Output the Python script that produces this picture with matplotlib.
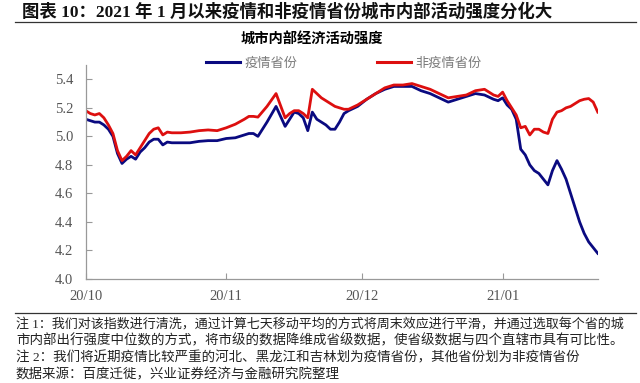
import numpy as np
import pandas as pd
import matplotlib
matplotlib.use('Agg')
import matplotlib.pyplot as plt
import matplotlib.dates as mdates
from matplotlib.lines import Line2D

plt.rcParams['font.family'] = ['Liberation Serif', 'Noto Sans CJK SC', 'DejaVu Sans']

# days after 2020-10-01
day_offset = [0, 1, 2, 3, 4, 5, 6, 7, 8, 9, 10, 11, 12, 13, 14, 15, 16, 17, 18, 19,
              21, 23, 25, 27, 29, 31, 33, 35, 36, 37, 38, 40, 42, 44, 45, 46, 47, 48,
              49, 50, 51, 52, 53, 54, 55, 56, 57, 58, 60, 62, 64, 66, 68, 70, 72, 74,
              76, 78, 80, 82, 84, 86, 88, 90, 91, 92, 93, 94, 95, 96, 97, 98, 99, 100,
              101, 102, 103, 104, 105, 106, 107, 108, 109, 110, 111, 112, 113]

epidemic = [5.12, 5.11, 5.10, 5.10, 5.08, 5.05, 5.00, 4.88, 4.81, 4.84, 4.86, 4.84,
            4.89, 4.92, 4.96, 4.98, 4.98, 4.94, 4.96, 4.955, 4.955, 4.955, 4.965,
            4.97, 4.97, 4.985, 4.99, 5.01, 5.02, 5.02, 5.00, 5.10, 5.21, 5.07, 5.12,
            5.17, 5.16, 5.13, 5.04, 5.17, 5.12, 5.10, 5.08, 5.05, 5.05, 5.10, 5.16,
            5.18, 5.21, 5.26, 5.30, 5.33, 5.35, 5.35, 5.35, 5.32, 5.30, 5.27, 5.24,
            5.26, 5.28, 5.30, 5.29, 5.26, 5.25, 5.27, 5.22, 5.19, 5.12, 4.91, 4.87,
            4.80, 4.76, 4.74, 4.70, 4.66, 4.76, 4.83, 4.77, 4.70, 4.60, 4.50, 4.40,
            4.32, 4.26, 4.22, 4.18]

non_epidemic = [5.18, 5.16, 5.15, 5.16, 5.13, 5.08, 5.02, 4.90, 4.83, 4.86, 4.90, 4.87,
                4.92, 4.97, 5.02, 5.05, 5.06, 5.01, 5.03, 5.025, 5.025, 5.03, 5.04,
                5.045, 5.04, 5.06, 5.085, 5.12, 5.14, 5.14, 5.135, 5.21, 5.30, 5.13, 5.16,
                5.18, 5.18, 5.16, 5.13, 5.33, 5.30, 5.27, 5.25, 5.23, 5.21, 5.20, 5.19,
                5.19, 5.22, 5.26, 5.30, 5.34, 5.36, 5.36, 5.37, 5.35, 5.33, 5.30, 5.27,
                5.28, 5.29, 5.32, 5.33, 5.29, 5.28, 5.31, 5.25, 5.20, 5.15, 5.06, 5.07,
                5.01, 5.05, 5.05, 5.03, 5.02, 5.12, 5.17, 5.18, 5.20, 5.21, 5.23, 5.25,
                5.26, 5.265, 5.24, 5.17]

series_names = ['疫情省份', '非疫情省份']
yticks = [4.0, 4.2, 4.4, 4.6, 4.8, 5.0, 5.2, 5.4]
month_ticks = ['2020-10-01', '2020-11-01', '2020-12-01', '2021-01-01']

dates = pd.Timestamp('2020-10-01') + pd.to_timedelta(day_offset, unit='D')

blue = '#0a0a80'
red = '#dd0f0f'
gray_txt = '#555555'

fig = plt.figure(figsize=(6.4, 3.83), dpi=100)
ax = fig.add_axes([0.134, 0.2715, 0.8, 0.5587])

ax.plot(dates, epidemic, color=blue, lw=2.0, solid_joinstyle='round')
ax.plot(dates, non_epidemic, color=red, lw=2.0, solid_joinstyle='round')

ax.set_ylim(4.0, 5.5)
ax.set_yticks(yticks)
ax.set_yticklabels([f'{v:.1f}' for v in yticks])
ax.set_xlim(dates[0], dates[-1])
ax.set_xticks(pd.to_datetime(month_ticks))
ax.xaxis.set_major_formatter(mdates.DateFormatter('%y/%m'))

for s in ['top', 'right']:
    ax.spines[s].set_visible(False)
for s in ['left', 'bottom']:
    ax.spines[s].set_color('#999999')
    ax.spines[s].set_linewidth(0.9)
ax.tick_params(direction='in', length=4, width=0.8, color='#999999',
               labelsize=10.5, labelcolor=gray_txt)
ax.tick_params(axis='x', pad=8)
ax.tick_params(axis='y', pad=9)

# chart title and legend
fig.text(0.4875, 0.8956, '城市内部经济活动强度', ha='center', va='center',
         fontsize=10.3, fontweight='bold', family=['Noto Sans CJK SC'])
handles = [Line2D([], [], color=blue, lw=2.2), Line2D([], [], color=red, lw=2.2)]
leg = fig.legend(handles, series_names, loc='center', bbox_to_anchor=(0.537, 0.835),
                 ncol=2, frameon=False, handlelength=2.6, handletextpad=0.35,
                 columnspacing=6.0, prop={'family': 'Noto Sans CJK SC', 'size': 9.5})
for t in leg.get_texts():
    t.set_color('#7a7a7a')

# header
fig.text(0.034, 0.968, '图表 10：2021 年 1 月以来疫情和非疫情省份城市内部活动强度分化大',
         ha='left', va='center', fontsize=12.5, fontweight='bold', color='#111111')
fig.add_artist(Line2D([0.023, 0.993], [0.943, 0.943], color='#333333', lw=0.9))
fig.add_artist(Line2D([0.023, 0.993], [0.182, 0.182], color='#333333', lw=0.9))

notes = ['注 1：我们对该指数进行清洗，通过计算七天移动平均的方式将周末效应进行平滑，并通过选取每个省的城',
         '市内部出行强度中位数的方式，将市级的数据降维成省级数据，使省级数据与四个直辖市具有可比性。',
         '注 2：我们将近期疫情比较严重的河北、黑龙江和吉林划为疫情省份，其他省份划为非疫情省份',
         '数据来源：百度迁徙，兴业证券经济与金融研究院整理']
note_sizes = [9.4, 9.7, 9.7, 9.7]
for i, line in enumerate(notes):
    fig.text(0.025, 0.155 - i * 0.0445, line, ha='left', va='center',
             fontsize=note_sizes[i], color='#222222')

fig.savefig('out.png', dpi=100)
